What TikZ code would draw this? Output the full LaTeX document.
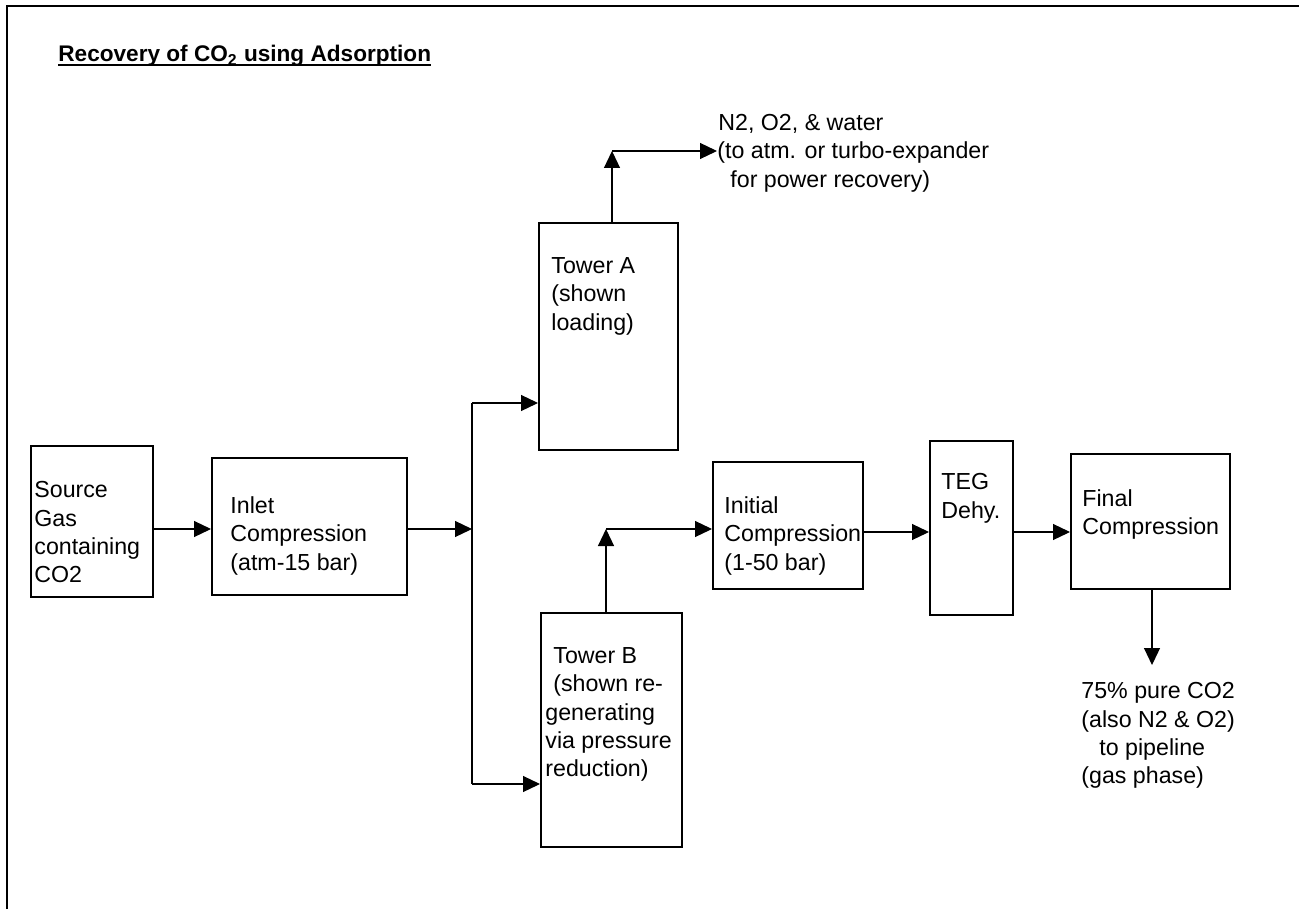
\documentclass[tikz,border=0pt]{standalone}
\usepackage{fontspec}
\setmainfont{Liberation Sans}
\usetikzlibrary{arrows.meta,positioning,calc}
\newcommand{\bodysize}{\fontsize{11.6}{14.2}\selectfont}
\tikzset{
  unit/.style={rectangle, draw=black, line width=0.75pt, inner sep=0pt, anchor=north west},
  txt/.style={font=\bodysize, align=left, inner sep=0pt, anchor=north west},
  flow/.style={-{Triangle[length=8.5pt,width=8pt]}, draw=black, line width=0.6pt},
  pipe/.style={draw=black, line width=0.6pt},
  frame/.style={draw=black, line width=1.4pt}
}
\begin{document}
\begin{tikzpicture}[x=0.5pt, y=-0.5pt]
 \useasboundingbox (0,0) rectangle (1299,909);
 \draw[frame] (7,909) -- (7,6) -- (1299,6);
 \node[txt, anchor=base west, font=\fontsize{11.3}{13}\selectfont\bfseries] (title) at (58,62) {Recovery of CO\textsubscript{2} using Adsorption};
 \draw[line width=1.3pt] ([yshift=-1.6pt]title.base west) -- ([yshift=-1.6pt]title.base east);
 % process units
 \node[unit, minimum width=61pt, minimum height=75.5pt] (src) at (30,445) {};
 \node[unit, minimum width=97.5pt, minimum height=68.5pt] (inlet) at (211,457) {};
 \node[unit, minimum width=69.5pt, minimum height=113.5pt] (towA) at (538,222) {};
 \node[unit, minimum width=70.5pt, minimum height=117pt] (towB) at (540,612) {};
 \node[unit, minimum width=75pt, minimum height=63.5pt] (init) at (712,461) {};
 \node[unit, minimum width=41.5pt, minimum height=87pt] (teg) at (929,440) {};
 \node[unit, minimum width=79.5pt, minimum height=67.5pt] (final) at (1070,453) {};
 % unit texts
 \node[txt] (src-txt) at (34,481) {Source\\Gas\\containing\\CO2};
 \node[txt] (inlet-txt) at (230,496) {Inlet\\Compression\\(atm-15 bar)};
 \node[txt] (towA-txt) at (551,257) {Tower A\\(shown\\loading)};
 \node[txt] (towB-txt) at (545,647) {\hspace*{4pt}Tower B\\\hspace*{4pt}(shown re-\\generating\\via pressure\\reduction)};
 \node[txt] (init-txt) at (724,496) {Initial\\Compression\\(1-50 bar)};
 \node[txt] (teg-txt) at (941,473) {TEG\\Dehy.};
 \node[txt] (final-txt) at (1082,489) {Final\\Compression};
 % streams
 \node[txt] (vent) at (717,114) {\hspace*{0.5pt}N2, O2, \& water\\(to atm. or turbo-expander\\\hspace*{6.5pt}for power recovery)};
 \node[txt] (prod) at (1081,682) {75\% pure CO2\\(also N2 \& O2)\\\hspace*{9pt}to pipeline\\(gas phase)};
 \coordinate (split) at (472,529);
 \coordinate (forkA) at (472,403);
 \coordinate (forkB) at (472,784);
 \coordinate (ventK) at (612,151);
 \coordinate (regK) at (606,529);
 \coordinate (row) at (0,532);
 \coordinate (prodK) at (1152,665);
 \draw[flow] (src.east |- split) -- (inlet.west |- split);
 \draw[flow] (inlet.east |- split) -- (split);
 \draw[pipe] (forkA) -- (forkB);
 \draw[flow] (forkA) -- (towA.west |- forkA);
 \draw[flow] (forkB) -- (towB.west |- forkB);
 \draw[flow] (towA.north -| ventK) -- (ventK);
 \draw[flow] (ventK) -- (vent.west |- ventK);
 \draw[flow] (towB.north -| regK) -- (regK);
 \draw[flow] (regK) -- (init.west |- regK);
 \draw[flow] (init.east |- row) -- (teg.west |- row);
 \draw[flow] (teg.east |- row) -- (final.west |- row);
 \draw[flow] (final.south -| prodK) -- (prodK);
\end{tikzpicture}
\end{document}
